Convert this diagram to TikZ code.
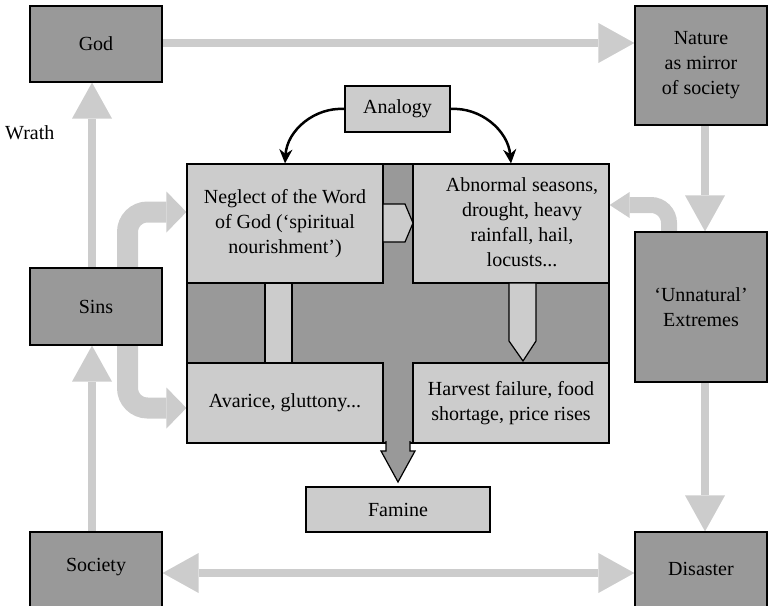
\documentclass[tikz,border=0pt]{standalone}
\usepackage{fontspec}
\setmainfont{Liberation Serif}
\usetikzlibrary{arrows.meta,backgrounds}
\definecolor{dg}{HTML}{999999}
\definecolor{lg}{HTML}{CCCCCC}
\begin{document}
\begin{tikzpicture}[x=1pt,y=-1pt,
  txt/.style={font=\fontsize{20}{25}\selectfont, align=center, inner sep=0pt},
  dbox/.style={txt, draw=black, line width=1.2pt, fill=dg},
  lbox/.style={txt, draw=black, line width=1.2pt, fill=lg},
  fat/.style={draw=lg, line width=8pt, -{Triangle[length=36pt,width=40pt,line width=0pt]}},
  dfat/.style={draw=lg, line width=8pt, {Triangle[length=36pt,width=40pt,line width=0pt]}-{Triangle[length=36pt,width=40pt,line width=0pt]}},
  analog/.style={draw=black, line width=2.5pt, -{Stealth[length=14pt,width=13pt]}},
  piece/.style={draw=black, line width=1.2pt}
]
\useasboundingbox (0,0) rectangle (770,605);
\clip (0,0) rectangle (770,605);

% outer boxes
\node[dbox, minimum width=132, minimum height=76] (god) at (96,44) {God};
\node[dbox, minimum width=132, minimum height=119] (nature) at (701,65.5) {Nature\\as mirror\\of society};
\node[dbox, minimum width=132, minimum height=77] (sins) at (96,306.5) {Sins};
\node[dbox, minimum width=132, minimum height=150] (unnat) at (701,307) {‘Unnatural’\\Extremes};
\node[dbox, minimum width=132, minimum height=88] (society) at (96,576) {};
\node[dbox, minimum width=132, minimum height=88] (disaster) at (701,576) {};

% central block
\node[dbox, minimum width=422, minimum height=279] (core) at (398,303.5) {};
\node[lbox, minimum width=196, minimum height=119] (neglect) at (285,223.5) {Neglect of the Word\\of God (‘spiritual\\nourishment’)};
\node[lbox, minimum width=196, minimum height=119] (abn) at (511,223.5) {};
\node[txt] (abntxt) at (522,222) {Abnormal seasons,\\drought, heavy\\rainfall, hail,\\locusts...};
\node[lbox, minimum width=196, minimum height=80] (avarice) at (285,403) {Avarice, gluttony...};
\node[lbox, minimum width=196, minimum height=80] (harvest) at (511,403) {Harvest failure, food\\shortage, price rises};
\node[lbox, minimum width=105, minimum height=46] (analogy) at (397.5,109) {Analogy};
\node[lbox, minimum width=184, minimum height=45] (famine) at (398,509.5) {Famine};

% inner connectors
\draw[piece, fill=lg] (383,204) -- (405,204) -- (413,223) -- (405,242) -- (383,242) -- cycle;
\draw[piece, fill=lg] (265,283) rectangle (292,363);
\draw[piece, fill=lg] (509,283) -- (509,341) -- (523,361) -- (536,341) -- (536,283) -- cycle;
\draw[piece, fill=dg] (386,441) -- (386,451) -- (381,451) -- (398,482) -- (415,451) -- (410,451) -- (410,441);

% texts of cut boxes
\node[txt] (societytxt) at (96,567) {Society};
\node[txt] (disastertxt) at (701,569) {Disaster};
\node[txt, anchor=west] (wrath) at (5,133) {Wrath};

% analogy arrows
\draw[analog] (analogy.west) .. controls (315,107) and (287,130) .. (neglect.north);
\draw[analog] (analogy.east) .. controls (480,107) and (508,130) .. (abn.north);

% fat grey arrows (behind)
\begin{scope}[on background layer]
\draw[fat] (god.east |- 0,43) -- (nature.west |- 0,43);
\draw[fat] ([xshift=-4pt]sins.north) -- ([xshift=-4pt]god.south);
\draw[fat] ([xshift=-4pt]society.north) -- ([xshift=-4pt]sins.south);
\draw[fat] ([xshift=4pt]nature.south) -- ([xshift=4pt]unnat.north);
\draw[fat] ([xshift=4pt]unnat.south) -- ([xshift=4pt]disaster.north);
\draw[dfat] (society.east |- 0,573) -- (disaster.west |- 0,573);
\draw[draw=lg, line width=21pt, rounded corners=20pt, -{Triangle[length=20pt,width=41pt,line width=0pt]}] (127.5,306) |- (neglect.west |- 0,212);
\draw[draw=lg, line width=21pt, rounded corners=20pt, -{Triangle[length=20pt,width=41pt,line width=0pt]}] (127.5,306) |- (avarice.west |- 0,408);
\draw[draw=lg, line width=16pt, rounded corners=18pt, -{Triangle[length=20pt,width=26pt,line width=0pt]}] (unnat.north -| 669,0) |- (abn.east |- 0,205);
\end{scope}
\end{tikzpicture}
\end{document}
